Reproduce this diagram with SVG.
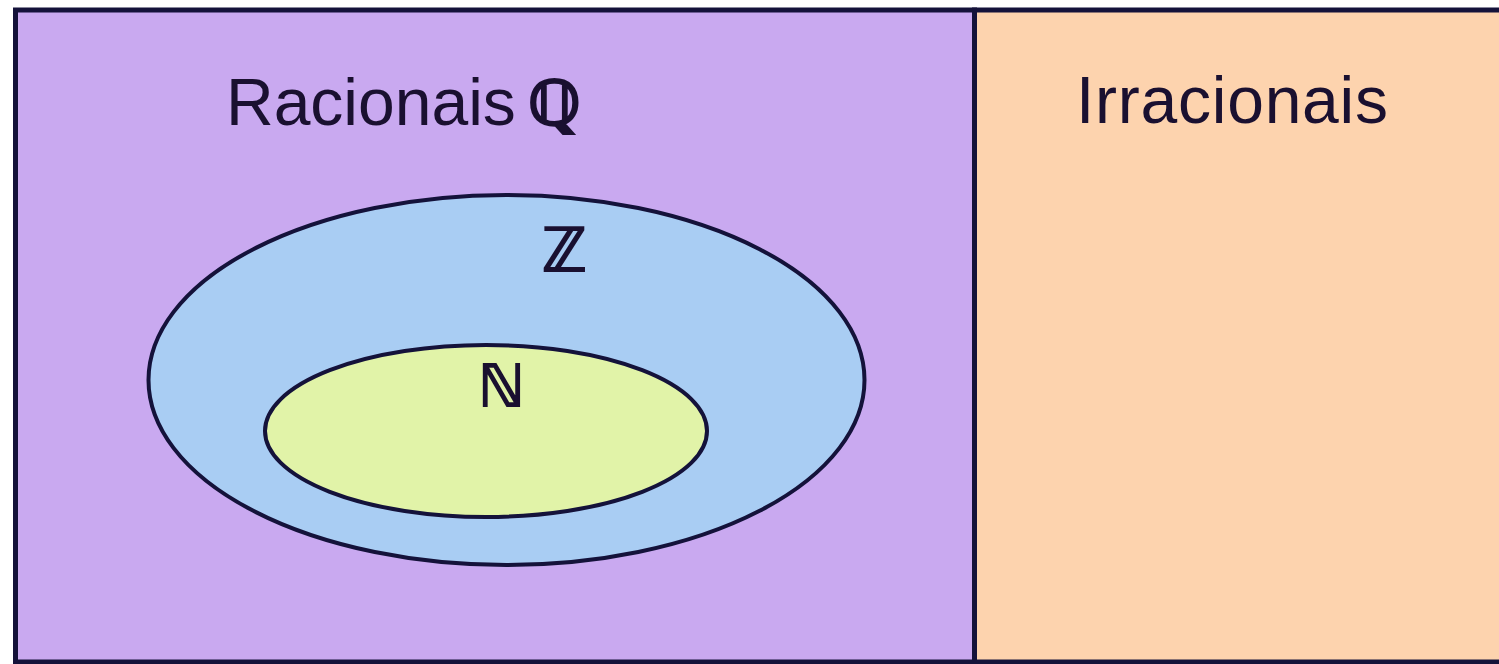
<svg xmlns="http://www.w3.org/2000/svg" width="1499" height="664" viewBox="0 0 1499 664">
<style>
.box{stroke:#14123a;stroke-width:5}
.ell{stroke:#14123a;stroke-width:4}
.lbl{font-family:"Liberation Sans",Arial,sans-serif;font-size:66px;fill:#1a1030}
.sym{font-family:"DejaVu Sans",sans-serif;fill:#1a1030;stroke:#1a1030;stroke-width:2}
</style>
<rect width="1499" height="664" fill="#ffffff"/>
<g id="irracionais">
<rect class="box" x="974.5" y="10" width="540" height="652" fill="#fdd3ae"/>
<text class="lbl" x="1076" y="123" textLength="312">Irracionais</text>
</g>
<g id="racionais">
<rect class="box" x="15.5" y="10" width="959" height="652" fill="#c9a9f0"/>
<text class="lbl" x="226" y="125">Racionais</text>
<text class="sym" x="528" y="125" font-size="62" font-weight="bold">ℚ</text>
</g>
<g id="inteiros">
<ellipse class="ell" cx="506.5" cy="380" rx="358" ry="185" fill="#a9cdf3"/>
<text class="sym" x="542" y="271" font-size="60">ℤ</text>
</g>
<g id="naturais">
<ellipse class="ell" cx="486" cy="431" rx="221" ry="86" fill="#e1f3a8"/>
<text class="sym" x="478" y="406" font-size="58">ℕ</text>
</g>
<g id="connectors"></g>
</svg>
